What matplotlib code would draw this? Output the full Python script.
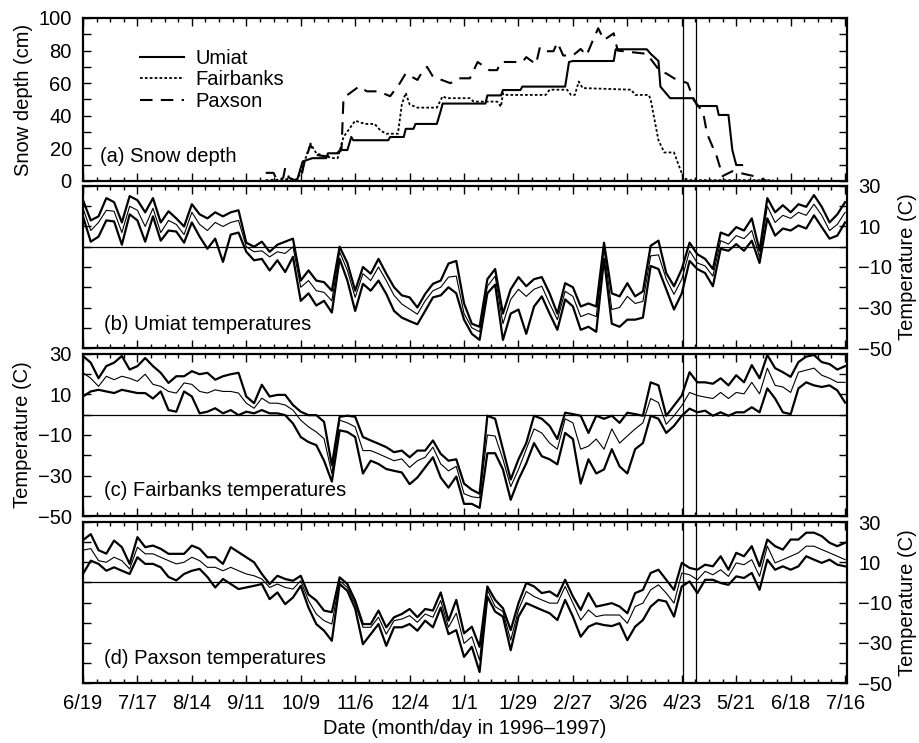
import matplotlib
matplotlib.use('Agg')
import matplotlib.pyplot as plt
from matplotlib.ticker import MultipleLocator, FixedLocator

plt.rcParams['font.family'] = ['Liberation Sans', 'DejaVu Sans']
plt.rcParams['font.size'] = 14.5

# x axis: days since 6/19/1996
date_ticks = [0, 28, 56, 84, 112, 140, 168, 196, 224, 252, 280, 308, 336, 364, 392]
date_labels = ['6/19', '7/17', '8/14', '9/11', '10/9', '11/6', '12/4', '1/1',
               '1/29', '2/27', '3/26', '4/23', '5/21', '6/18', '7/16']
marker_days = [308.5, 315.5]

# snow depth (cm)
umiat_snow_day = [110, 113, 118, 120, 125, 126, 131, 133, 136, 138, 139, 141,
                  157, 158, 165, 166, 170, 171, 182, 184, 185,
                  207, 208, 215, 216, 225, 226, 248, 250, 252,
                  273, 274, 290, 292, 296, 297, 302, 314, 316,
                  326, 327, 332, 334, 336, 339]
umiat_snow = [0, 12, 14, 14, 14, 17, 17, 19, 19, 27, 25, 25,
              25, 27, 27, 32, 32, 35, 35, 43, 47.5,
              47.5, 52.5, 52.5, 55.8, 55.8, 57.9, 57.9, 73, 73.6,
              73.6, 80.8, 80.8, 78, 73.6, 57.9, 50.8, 50.8, 46,
              46, 40.5, 40.5, 19, 9.8, 9.8]

fairbanks_snow_day = [94, 104, 110, 112, 117, 120, 125, 129, 131, 134,
                      140, 145, 150, 153, 156, 162, 164, 166, 168, 172,
                      182, 185, 187, 199, 201, 213, 215, 216, 218, 238,
                      240, 249, 251, 253, 255, 257, 282, 284, 291, 292,
                      294, 296, 299, 304, 306, 309, 312, 355]
fairbanks_snow = [0.5, 1, 1, 5, 23, 17, 15, 14, 14, 27,
                  37, 35, 35, 31, 29, 29, 47, 54, 47, 45,
                  45, 52, 50.8, 50.8, 48.7, 48.7, 45.6, 53.8, 52.8, 52.8,
                  56, 56, 52.8, 52.8, 61, 57, 56, 52.8, 52.8, 50,
                  37.4, 25, 17.5, 17.5, 11, 1.6, 0.5, 0.5]

paxson_snow_day = [94, 98, 100, 103, 104, 106, 110, 112, 114, 117,
                   120, 125, 130, 133, 134, 142, 146, 152, 158, 163,
                   166, 172, 175, 177, 180, 189, 193, 199, 203, 209,
                   213, 215, 226, 228, 233, 235, 238, 242, 244, 247,
                   252, 256, 259, 262, 265, 268, 273, 275, 290, 297,
                   300, 304, 311, 314, 319, 321, 326, 329, 334, 345, 352]
paxson_snow = [5, 5, 0, 2, 8, 2, 0, 1, 12, 22,
               16, 15, 16, 20, 51, 58, 55, 55, 52, 60,
               66, 62, 68, 70, 64, 60, 63, 63, 73, 68,
               68, 73, 73, 76, 71.6, 82, 79.6, 79.6, 85, 77,
               77, 81, 77, 85.5, 93.7, 86.5, 90.6, 80, 78, 67,
               66, 63, 60, 50, 42, 29, 15, 3, 6, 3, 0]

# temperatures (C), every 4 days from 6/19/1996
umiat_max = [23, 13, 15, 24, 22, 12, 25, 23, 17, 24, 12, 17.5, 14, 10, 21, 16, 14, 17, 15, 17,
             18, 2, 0, 2.5, -2.5, 1, 2.5, 4, -16.7, -11.7, -16.7, -17.5, -21.7, 0, -8, -21.7, -10, -13.3, -6, -13.3,
             -20, -24, -25, -30, -23.3, -18.3, -16.7, -8.3, -7, -28, -38, -39.5, -16, -11, -33, -21, -15, -19.5, -16, -15,
             -23, -33, -18, -20, -29.5, -28, -29.5, 2, -23, -24.5, -18, -24.5, -22, 0.5, 3, -13, -19.5, -11, 2, -3.7,
             -6, -11, 7, 5.5, 9.7, 8, 14, -2, 24, 17, 20.5, 17, 21, 19.7, 25.5, 19.7, 12, 16, 22]
umiat_mean = [19, 8, 12, 18, 17.5, 7, 20, 18, 10, 19, 7, 13, 11, 6, 17, 11, 8, 12, 10, 12,
              13, 0, -2.5, -2, -5, -2.5, -3.3, 0, -20, -16.7, -21.7, -22.5, -26.7, -2.5, -11.7, -25, -13.3, -16.7, -10, -16.7,
              -24, -28.3, -30.8, -33.3, -26.7, -21.7, -20, -15, -14.5, -33, -40, -42, -19.5, -14.5, -38, -26, -21, -24.5, -21, -19.5,
              -28, -36, -22, -24.5, -34.5, -33, -34.5, -1, -31, -30, -24.5, -28, -27, -4.5, -4, -16, -23.5, -16, -2, -8,
              -9.5, -14.5, 3, 1.3, 5.5, 4, 8, -5, 20, 12, 15.5, 14, 17, 15.5, 21, 15.5, 8, 11, 17]
umiat_min = [15, 2.5, 5, 13, 12.5, 1, 16, 13, 2.5, 15, 3, 8, 7.5, 2, 12, 5, -1, 4, -7.5, 6,
             7, -2.5, -6.7, -6, -11.7, -6.7, -12.5, -5, -26.7, -23, -29, -26.7, -32.5, -6, -16.7, -31.7, -18.3, -21.7, -16.7, -23.3,
             -31.7, -35, -36.7, -38.3, -31.7, -25, -24, -20, -23, -36, -43, -46, -23, -18.7, -46, -33, -31, -43, -29.5, -24.5,
             -33, -41, -26, -29.5, -41, -39.5, -42, -6, -38, -39.5, -36, -36, -35, -9.5, -11, -21, -31, -23, -7, -11,
             -13, -19.5, -1, -2, 1.3, -2, 3, -8, 14, 5.5, 9, 8, 10.5, 9, 15.5, 9.7, 4, 5.5, 12]

fairbanks_max = [29, 25.7, 18, 24, 25.7, 29, 22.3, 24, 28, 24, 20.7, 15.7, 19, 19, 21.5, 20, 20.7, 17.3, 19, 20,
                 20.7, 9, 5.7, 14.8, 9, 9.8, 9.8, 4.8, 1.5, -0.2, -0.2, -3.5, -25, -1, -0.5, -1, -11, -12.7, -14.3, -16,
                 -18.5, -17.7, -21, -17.7, -17.7, -12.7, -19.3, -22.7, -22, -34, -37, -39, -0.5, -2, -17, -32, -22, -14, -0.5, -2,
                 -5.5, -12, 1, 0.3, -0.5, -9, -0.5, -2, -0.5, -4, 1, 0.3, -0.5, 16, 14.5, -0.5, 4.5, 9.5, 21, 16,
                 16, 15.3, 18, 14.5, 19.5, 16, 24.5, 18, 29.5, 23, 21, 18.7, 26, 28.7, 29.5, 26, 25, 22.3, 24]
fairbanks_mean = [20.7, 18, 14, 19, 17.3, 19, 18, 16.5, 20, 15, 14, 11.5, 10.7, 15.7, 15, 11.5, 10.7, 12.3, 11.5, 11.5,
                  10.7, 5.7, 3.2, 8.2, 5.7, 5.7, 4.8, 2.3, -2.7, -6, -8.5, -11.8, -29, -2.7, -4, -6, -17.7, -17.7, -19.3, -21,
                  -22.7, -21.8, -26, -22.7, -21, -16, -24.3, -27.7, -25.5, -39, -40.5, -41, -10, -10.5, -22, -35.5, -27, -17, -7, -9,
                  -14, -17, -2, -4, -17, -15.5, -12, -17, -7, -14, -10.5, -7, -4, 8, 6, -4.7, -0.5, 4.5, 11, 9.5,
                  8.7, 8, 11, 8, 11, 10.3, 16, 10.3, 23, 14.5, 13.7, 11, 21, 22, 23, 19.5, 18, 16, 16]
fairbanks_min = [9, 11.5, 12.3, 11.5, 10.7, 12.3, 11.5, 10.7, 10.7, 8, 11.5, 2.3, 1.5, 11.5, 9, 0.7, 1.5, 3.2, 0.7, 2.3,
                 -0.2, 1.5, 0.7, 2.3, 0.7, 0.7, -0.2, -4.3, -11, -13.5, -15, -22.7, -33, -7.7, -8.5, -11, -29, -22.7, -24.3, -26.8,
                 -27.7, -28.5, -34.3, -31, -26, -21, -31, -36, -30.5, -44, -44, -46, -19, -19, -27, -42, -32, -24, -14, -20.5,
                 -22, -24.5, -9, -12, -34, -22, -29, -27, -17, -25.5, -29, -17, -14, -0.5, -2, -9, -5.5, -0.5, 3, 1.2,
                 2, -0.5, 1.2, -0.5, 1.2, 1.2, 3.7, 1.2, 13, 8, 1.2, 0.3, 13, 16, 14.5, 13.7, 14.5, 12, 6]

paxson_max = [21, 24, 16, 14.3, 20.8, 17.5, 9.2, 22.5, 17.5, 18.3, 16.7, 14.2, 14.2, 14.2, 18.3, 16.7, 12.5, 12.5, 9.2, 17.5,
              15, 12.5, 10, 4.2, -0.8, 3.3, 1.7, 0.8, 3.3, -6, -9, -14, -14.8, 2.5, -0.8, -9, -20.7, -20.7, -14, -22.3,
              -17.3, -15.7, -13.2, -17.3, -13.2, -14, -5, -19, -8.7, -25.3, -22, -32, -2, -8.7, -12.8, -23.7, -10.3, -0.3, -2, -5.3,
              -4.5, -7, 1.3, -7, -13.7, -5.3, -12, -11.2, -10.3, -12, -15.3, -5.3, -3.7, 4.7, 6.3, 1.3, -3.7, 9.7, 7.2, 6.3,
              8.8, 8, 13, 6.3, 14.7, 13, 18, 8, 21.3, 18, 16.3, 21.3, 21.3, 24.7, 24.7, 23, 19.7, 18, 19.7]
paxson_mean = [16, 16.8, 10.8, 10, 12.5, 10.8, 6.7, 17.5, 14.2, 14.2, 12.5, 10.8, 9.2, 10, 12.5, 10.8, 7.5, 7.5, 5.8, 7.5,
               5.8, 4.2, 3.3, 1.7, -2.5, -0.8, -2.5, -3.3, 0.8, -9, -15.7, -19, -20.7, 0.8, -2.5, -10.8, -22.3, -22.3, -17.3, -25.7,
               -19, -18.2, -16.5, -19.8, -15.7, -17.3, -9, -22.3, -15.3, -30.3, -27, -38.7, -3.7, -12, -14.5, -28.7, -13.7, -4.5, -7, -8.7,
               -10.3, -10.3, -2, -10.3, -18.7, -13.7, -17, -16.2, -16.2, -16.2, -20.3, -12, -10.3, -3.7, -1.2, -5.3, -10.3, 4.7, 3.8, 1.3,
               5.5, 3.8, 6.3, 3, 9.7, 8.8, 11.3, 3, 18, 9.7, 11.3, 13, 14.7, 18, 18, 16.3, 14.7, 13, 11.3]
paxson_min = [4.2, 10.8, 9.2, 5.8, 7.5, 5.8, 4.2, 12.5, 9.2, 9.2, 7.5, 2.7, 1, 4.2, 5.8, 6.7, 2.7, -2.5, 1.7, -0.8,
              -3.3, -2.5, -1.7, -0.8, -8.3, -5, -10.8, -7.5, -1.7, -12.5, -20.7, -24, -29, -0.8, -4.2, -13, -30.7, -25.7, -20.7, -31.5,
              -22.3, -22.3, -20.7, -24, -19, -22.3, -12.5, -25.7, -23.7, -37, -32, -44.5, -7, -14.5, -17, -33.7, -17, -10.3, -12, -13.7,
              -15.3, -18.7, -8.7, -17, -27, -22, -20.3, -21.2, -21.7, -20.3, -28.7, -22, -18.7, -12, -8.7, -9.5, -17, -2, 0.5, -5.3,
              1.3, 1.3, -0.3, -1.2, 3, 2.2, 4.7, -3.7, 11.3, 6.3, 8, 6.3, 8, 13, 11.3, 9.7, 11.3, 8.8, 8]

temp_day = [4 * i for i in range(len(umiat_max))]

fig = plt.figure(figsize=(9.19, 7.43), dpi=100)
left, width = 0.0903, 0.8314
ax_a = fig.add_axes([left, 0.7564, width, 0.2194])
ax_b = fig.add_axes([left, 0.5316, width, 0.2181])
ax_c = fig.add_axes([left, 0.3055, width, 0.2181])
ax_d = fig.add_axes([left, 0.0807, width, 0.2167])
axes = [ax_a, ax_b, ax_c, ax_d]

for ax in axes:
    ax.set_xlim(0, 393)
    ax.xaxis.set_major_locator(FixedLocator(date_ticks))
    ax.xaxis.set_minor_locator(MultipleLocator(7))
    ax.tick_params(which='both', direction='in', top=True, right=True, width=1)
    ax.tick_params(which='major', length=6)
    ax.tick_params(which='minor', length=3)
    ax.tick_params(axis='y', pad=8)
    for s in ax.spines.values():
        s.set_linewidth(1.6)
    for d in marker_days:
        ax.axvline(d, color='black', linewidth=0.9)
    if ax is not ax_d:
        ax.set_xticklabels([])

# (a) snow depth
ax_a.plot(umiat_snow_day, umiat_snow, color='black', linewidth=1.5, label='Umiat')
ax_a.plot(fairbanks_snow_day, fairbanks_snow, color='black', linewidth=1.3, linestyle=(0, (1.5, 1.2)), label='Fairbanks')
ax_a.plot(paxson_snow_day, paxson_snow, color='black', linewidth=1.5, linestyle=(0, (6, 4)), label='Paxson')
ax_a.set_ylim(0, 100)
ax_a.yaxis.set_major_locator(MultipleLocator(20))
ax_a.yaxis.set_minor_locator(MultipleLocator(10))
ax_a.tick_params(axis='y', which='minor', length=6)
ax_a.set_ylabel('Snow depth (cm)', labelpad=4)
ax_a.legend(loc='upper left', bbox_to_anchor=(0.064, 0.86), frameon=False,
            handlelength=2.2, handletextpad=0.55, labelspacing=0.12, borderaxespad=0)
ax_a.text(0.022, 0.15, '(a) Snow depth', transform=ax_a.transAxes, va='center')

panels = [
    (ax_b, umiat_max, umiat_mean, umiat_min, '(b) Umiat temperatures', 'right', 0.148),
    (ax_c, fairbanks_max, fairbanks_mean, fairbanks_min, '(c) Fairbanks temperatures', 'left', 0.16),
    (ax_d, paxson_max, paxson_mean, paxson_min, '(d) Paxson temperatures', 'right', 0.155),
]
for ax, tmax, tmean, tmin, title, side, ty in panels:
    ax.axhline(0, color='black', linewidth=0.9)
    ax.plot(temp_day, tmax, color='black', linewidth=1.6)
    ax.plot(temp_day, tmean, color='black', linewidth=0.8)
    ax.plot(temp_day, tmin, color='black', linewidth=1.6)
    ax.set_ylim(-50, 30)
    ax.yaxis.set_major_locator(FixedLocator([-50, -30, -10, 10, 30]))
    ax.yaxis.set_minor_locator(FixedLocator([-40, -20, 0, 20]))
    ax.tick_params(axis='y', which='minor', length=6)
    if side == 'right':
        ax.yaxis.tick_right()
        ax.tick_params(which='both', left=True, labelleft=False, labelright=True)
        ax.yaxis.set_label_position('right')
    ax.set_ylabel('Temperature (C)', labelpad=4)
    ax.text(0.028, ty, title, transform=ax.transAxes, va='center')

ax_d.set_xticklabels(date_labels)
ax_d.tick_params(axis='x', pad=8)
ax_d.set_xlabel('Date (month/day in 1996\u20131997)', labelpad=4)

fig.savefig('out.png', dpi=100)
plt.close(fig)
